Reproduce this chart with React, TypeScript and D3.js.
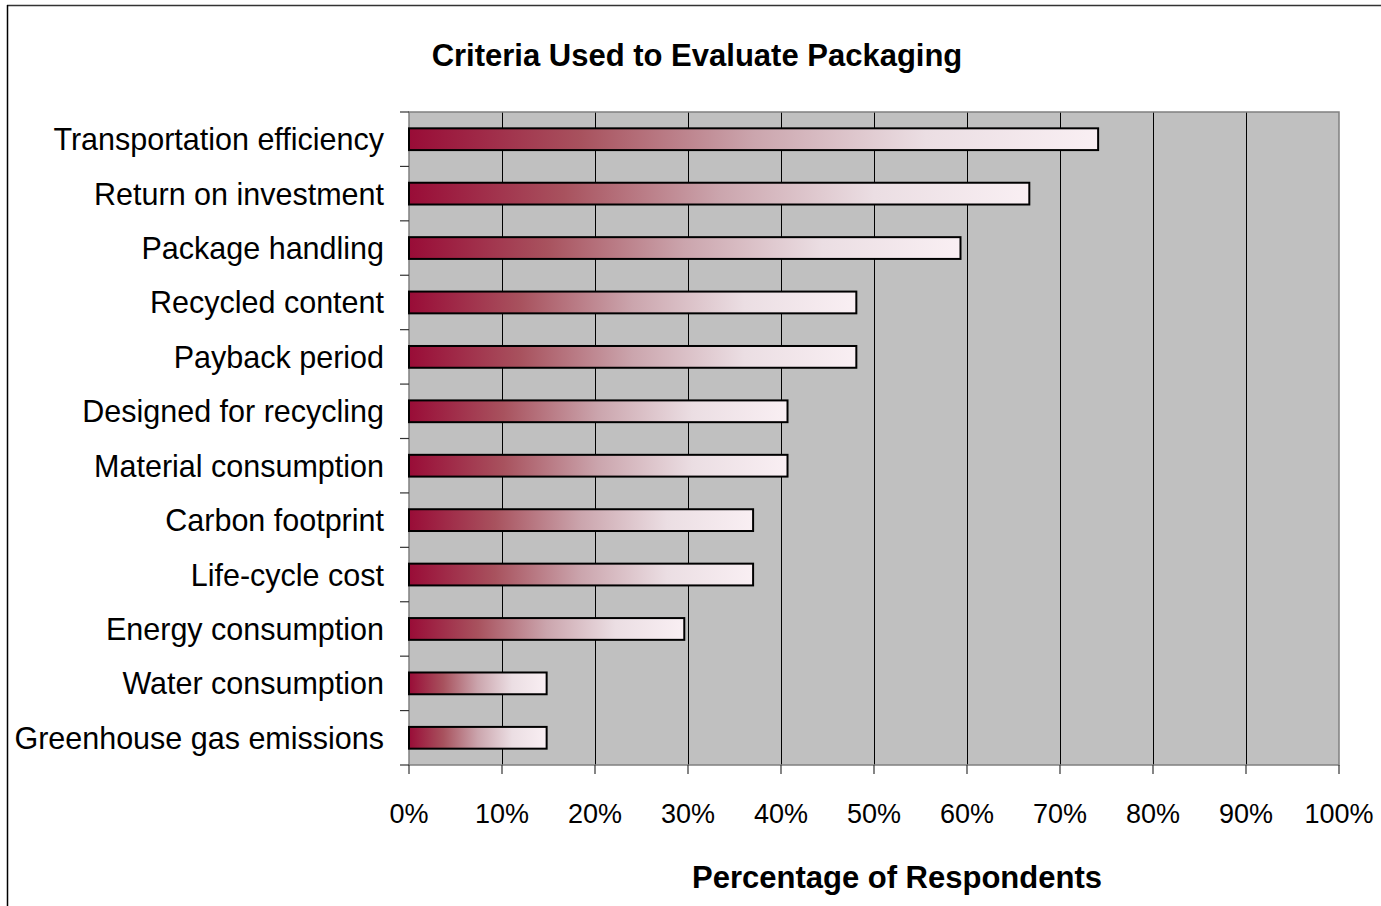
import React from "react";
import * as d3 from "d3";

const categories = [
  "Transportation efficiency",
  "Return on investment",
  "Package handling",
  "Recycled content",
  "Payback period",
  "Designed for recycling",
  "Material consumption",
  "Carbon footprint",
  "Life-cycle cost",
  "Energy consumption",
  "Water consumption",
  "Greenhouse gas emissions",
];
const values = [74.1, 66.7, 59.3, 48.1, 48.1, 40.7, 40.7, 37.0, 37.0, 29.6, 14.8, 14.8];
const xTicks = [0, 10, 20, 30, 40, 50, 60, 70, 80, 90, 100];
const title = "Criteria Used to Evaluate Packaging";
const xTitle = "Percentage of Respondents";

const W = 1381;
const H = 906;
const plot = { left: 409, right: 1339, top: 112, bottom: 765 };
const FONT = "Liberation Sans, Arial, sans-serif";

export default function App() {
  const x = d3.scaleLinear().domain([0, 100]).range([plot.left, plot.right]);
  const y = d3
    .scaleBand<string>()
    .domain(categories)
    .range([plot.top, plot.bottom])
    .paddingInner(0.6)
    .paddingOuter(0.3);
  const step = y.step();
  const bounds = d3.range(categories.length + 1).map((i) => plot.top + i * step);

  return (
    <svg
      width={W}
      height={H}
      style={{ position: "absolute", left: 0, top: 0, background: "#fff" }}
    >
      <defs>
        <linearGradient id="barGrad" x1="0" y1="0" x2="1" y2="0">
          <stop offset="0" stopColor="#990c37" />
          <stop offset="0.25" stopColor="#a8525e" />
          <stop offset="0.5" stopColor="#cba5ad" />
          <stop offset="0.75" stopColor="#ebdee3" />
          <stop offset="1" stopColor="#f9eff3" />
        </linearGradient>
      </defs>
      <rect x={0} y={0} width={W} height={H} fill="#fff" />
      <line x1={7} y1={5.5} x2={W} y2={5.5} stroke="#333" strokeWidth={1.5} />
      <line x1={7.5} y1={5} x2={7.5} y2={H} stroke="#000" strokeWidth={1.5} />

      <text
        x={697}
        y={66}
        textAnchor="middle"
        fontFamily={FONT}
        fontWeight="bold"
        fontSize={31}
      >
        {title}
      </text>

      <rect
        x={plot.left}
        y={plot.top}
        width={plot.right - plot.left}
        height={plot.bottom - plot.top}
        fill="#c0c0c0"
      />
      {xTicks.slice(1, -1).map((t) => (
        <line
          key={"g" + t}
          x1={x(t) + 0.5}
          x2={x(t) + 0.5}
          y1={plot.top}
          y2={plot.bottom}
          stroke="#000"
          strokeWidth={1}
        />
      ))}
      <rect
        x={plot.left}
        y={plot.top}
        width={plot.right - plot.left}
        height={plot.bottom - plot.top}
        fill="none"
        stroke="#808080"
        strokeWidth={1.5}
      />

      {categories.map((c, i) => (
        <rect
          key={c}
          x={x(0)}
          y={y(c)!}
          width={x(values[i]) - x(0)}
          height={y.bandwidth()}
          fill="url(#barGrad)"
          stroke="#000"
          strokeWidth={2}
        />
      ))}

      {bounds.map((b, i) => (
        <line
          key={"yt" + i}
          x1={plot.left - 9}
          x2={plot.left}
          y1={b}
          y2={b}
          stroke="#333"
          strokeWidth={1.2}
        />
      ))}
      {xTicks.map((t) => (
        <line
          key={"xt" + t}
          x1={x(t)}
          x2={x(t)}
          y1={plot.bottom}
          y2={plot.bottom + 9}
          stroke="#333"
          strokeWidth={1.2}
        />
      ))}

      {categories.map((c) => (
        <text
          key={"l" + c}
          x={384}
          y={y(c)! + y.bandwidth() / 2}
          dy="0.36em"
          textAnchor="end"
          fontFamily={FONT}
          fontSize={30.5}
        >
          {c}
        </text>
      ))}
      {xTicks.map((t) => (
        <text
          key={"xl" + t}
          x={x(t)}
          y={823}
          textAnchor="middle"
          fontFamily={FONT}
          fontSize={27}
        >
          {t + "%"}
        </text>
      ))}
      <text
        x={897}
        y={888}
        textAnchor="middle"
        fontFamily={FONT}
        fontWeight="bold"
        fontSize={31}
      >
        {xTitle}
      </text>
    </svg>
  );
}
